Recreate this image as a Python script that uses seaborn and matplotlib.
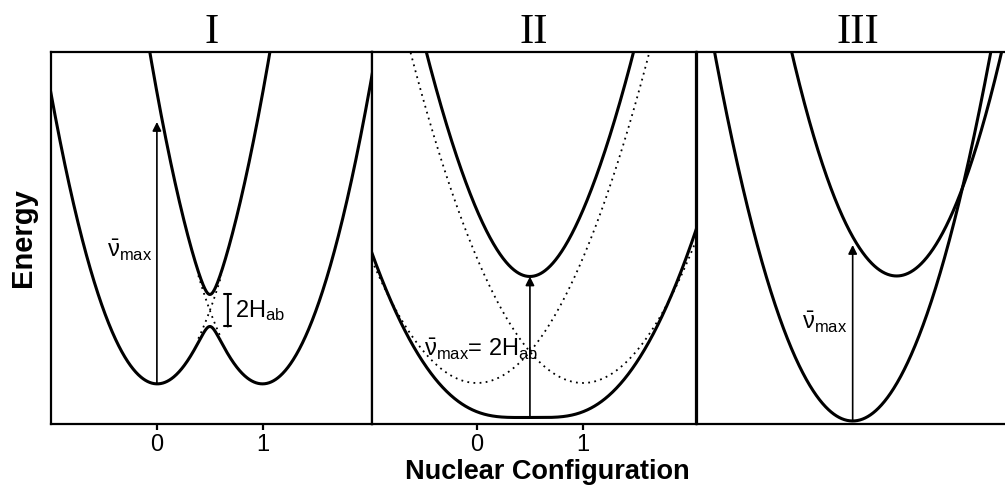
import matplotlib
matplotlib.use('Agg')
import matplotlib.pyplot as plt
import numpy as np
import seaborn as sns

# panel titles and axis text
panel_titles = ['I', 'II', 'III']
tick_positions = [0, 1]
tick_labels = ['0', '1']

# panel I: two diabatic wells at 0 and 1, small coupling
p1_minima = [0.0, 1.0]
p1_floor = 0.41
p1_force = 2.9
p1_coupling = 0.16

# panel II: dotted diabatic wells, adiabatic surfaces with large coupling
p2_minima = [0.0, 1.0]
p2_floor = 0.41
p2_force_dotted = 1.25
p2_force = 1.44
p2_coupling = 0.705

# panel III: ground and excited parabolas (centre, floor, force constant)
p3_centres = [0.47, 0.885]
p3_floors = [0.03, 1.48]
p3_forces = [2.17, 2.28]

sns.set_style('ticks')
plt.rcParams['font.family'] = ['Liberation Sans', 'DejaVu Sans']
plt.rcParams['mathtext.fontset'] = 'custom'
plt.rcParams['mathtext.rm'] = 'Liberation Sans'
plt.rcParams['mathtext.it'] = 'Liberation Sans:italic'
plt.rcParams['mathtext.bf'] = 'Liberation Sans:bold'
plt.rcParams['text.color'] = 'black'
plt.rcParams['axes.labelcolor'] = 'black'
plt.rcParams['xtick.color'] = 'black'

fig = plt.figure(figsize=(10.05, 4.87), dpi=100)
bottom, height = 0.1294, 0.7639
ax1 = fig.add_axes([0.0507, bottom, 0.3194, height])
ax2 = fig.add_axes([0.3701, bottom, 0.3224, height])
ax3 = fig.add_axes([0.6935, bottom, 0.3204, height])
axes = [ax1, ax2, ax3]

ylim = (0, 3.72)
lw = 2.2


def adiabatic(x, a, b, floor, k, h):
    ea = floor + k * (x - a) ** 2
    eb = floor + k * (x - b) ** 2
    mid = (ea + eb) / 2
    gap = np.sqrt(((ea - eb) / 2) ** 2 + h ** 2)
    return mid - gap, mid + gap, ea, eb


dots = (0, (1, 2.4))
arrow = dict(arrowstyle='-|>', lw=1.2, color='black', mutation_scale=13,
             shrinkA=0, shrinkB=0)

# ---- panel I
x = np.linspace(-1.1, 2.2, 800)
low, up, ea, eb = adiabatic(x, p1_minima[0], p1_minima[1], p1_floor, p1_force, p1_coupling)
sns.lineplot(x=x, y=low, ax=ax1, color='black', lw=lw, sort=False)
sns.lineplot(x=x, y=up, ax=ax1, color='black', lw=lw, sort=False)
near = (x > 0.39) & (x < 0.61)
ax1.plot(x[near], ea[near], color='black', lw=1.3, ls=dots)
ax1.plot(x[near], eb[near], color='black', lw=1.3, ls=dots)
ax1.annotate('', xy=(0, 3.02), xytext=(0, p1_floor), arrowprops=arrow)
ax1.text(-0.05, 1.74, r'$\bar{\mathrm{\nu}}_{\mathrm{max}}$', fontsize=17,
         ha='right', va='center')
mid1 = p1_floor + p1_force * 0.25
ax1.annotate('', xy=(0.67, mid1 + p1_coupling), xytext=(0.67, mid1 - p1_coupling),
             arrowprops=dict(arrowstyle='|-|, widthA=0.25, widthB=0.25', lw=1.5,
                             color='black', shrinkA=0, shrinkB=0))
ax1.text(0.74, mid1, r'2H$_{\mathrm{ab}}$', fontsize=17, ha='left', va='center')
ax1.set_xlim(-1.0, 2.03)

# ---- panel II
low, up, _, _ = adiabatic(x, p2_minima[0], p2_minima[1], p2_floor, p2_force, p2_coupling)
_, _, ea, eb = adiabatic(x, p2_minima[0], p2_minima[1], p2_floor, p2_force_dotted, 0.0)
ax2.plot(x, ea, color='black', lw=1.3, ls=dots)
ax2.plot(x, eb, color='black', lw=1.3, ls=dots)
sns.lineplot(x=x, y=low, ax=ax2, color='black', lw=lw, sort=False)
sns.lineplot(x=x, y=up, ax=ax2, color='black', lw=lw, sort=False)
i_mid = np.argmin(np.abs(x - 0.5))
ax2.annotate('', xy=(0.5, up[i_mid]), xytext=(0.5, low[i_mid]), arrowprops=arrow)
ax2.text(-0.5, 0.75, r'$\bar{\mathrm{\nu}}_{\mathrm{max}}$= 2H$_{\mathrm{ab}}$',
         fontsize=17, ha='left', va='center')
ax2.set_xlim(-0.99, 2.066)

# ---- panel III
for c, f, k in zip(p3_centres, p3_floors, p3_forces):
    sns.lineplot(x=x, y=f + k * (x - c) ** 2, ax=ax3, color='black', lw=lw, sort=False)
ax3.annotate('', xy=(p3_centres[0], 1.79), xytext=(p3_centres[0], p3_floors[0]),
             arrowprops=arrow)
ax3.text(p3_centres[0] - 0.05, 1.02, r'$\bar{\mathrm{\nu}}_{\mathrm{max}}$', fontsize=17,
         ha='right', va='center')
ax3.set_xlim(-1.0, 2.04)

for ax, title in zip(axes, panel_titles):
    ax.set_ylim(*ylim)
    ax.set_yticks([])
    ax.set_ylabel('')
    ax.set_title(title, fontfamily='Liberation Serif', fontsize=31, pad=6, color='black')
    for s in ax.spines.values():
        s.set_linewidth(1.6)
        s.set_color('black')
    ax.tick_params(axis='x', length=4, width=1.6, color='black', labelsize=17, pad=3)

for ax in (ax1, ax2):
    ax.set_xticks(tick_positions)
    ax.set_xticklabels(tick_labels)
ax3.set_xticks([])
ax3.spines['right'].set_visible(False)

ax1.set_ylabel('Energy', fontsize=21, fontweight='bold', labelpad=10)
fig.text(0.545, 0.031, 'Nuclear Configuration', fontsize=19.5, fontweight='bold',
         ha='center', va='center')

fig.savefig('out.png', dpi=100)
